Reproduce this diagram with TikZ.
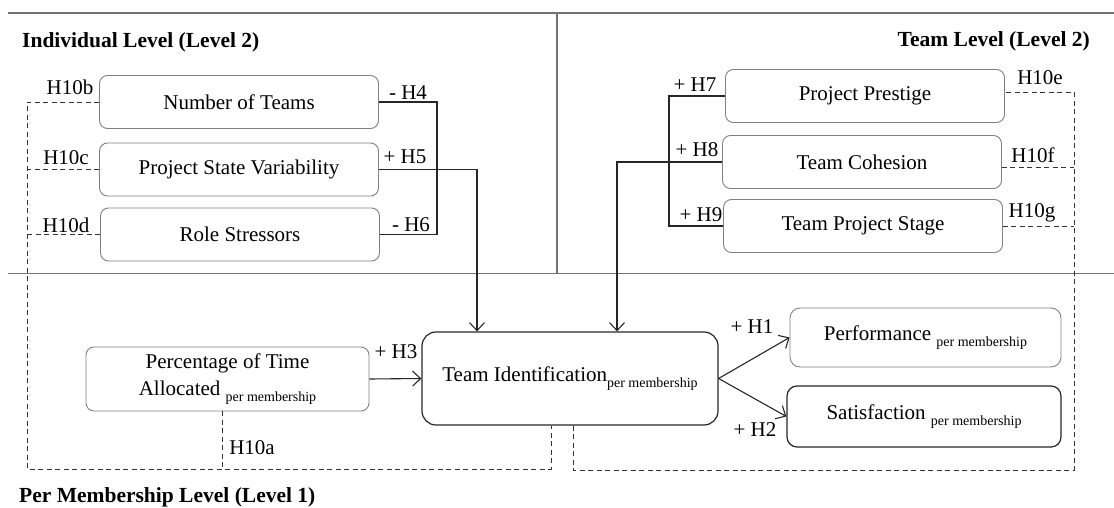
\documentclass[tikz,border=0pt]{standalone}
\usepackage{fontspec}
\setmainfont{Liberation Serif}
\usetikzlibrary{arrows.meta,calc}

% lowered, smaller "per membership" index
\newcommand{\permem}{\raisebox{-0.32em}{\fontsize{14}{14}\selectfont per membership}}

\begin{document}
\begin{tikzpicture}[x=1pt,y=-1pt,
  font=\fontsize{21}{27}\selectfont,
  box/.style={draw=black!50, line width=0.9pt, rounded corners=8pt, inner sep=0pt, align=center,
              minimum width=279pt, minimum height=53pt},
  strongbox/.style={box, draw=black!85, line width=1.2pt},
  link/.style={draw=black!85, line width=1.1pt},
  tip/.style={-{Straight Barb[length=8pt,width=15pt,line width=1.1pt]}},
  dline/.style={draw=black!80, line width=0.9pt, dash pattern=on 5pt off 3.5pt},
  divider/.style={draw=black!55, line width=1.4pt},
  head/.style={font=\fontsize{21.5}{26}\selectfont\bfseries, inner sep=0pt},
  lab/.style={inner sep=0pt}
]
\useasboundingbox (0,0) rectangle (1114,508);

% frame of the three levels
\draw[divider] (8,13) -- (1114,13);
\draw[divider] (8,273.5) -- (1114,273.5);
\draw[divider] (557,13) -- (557,273.5);

\node[head, anchor=west] (hind) at (22,42) {Individual Level (Level 2)};
\node[head, anchor=east] (hteam) at (1090,41) {Team Level (Level 2)};
\node[head, anchor=west] (hmem) at (19,497) {Per Membership Level (Level 1)};

% individual level constructs
\node[box] (not) at (239,102) {Number of Teams};
\node[box] (psv) at (239,169.5) {Project State Variability};
\node[box] (rs)  at (240,234.5) {Role Stressors};

% team level constructs
\node[box] (pp)  at (865,96)  {Project Prestige};
\node[box] (tc)  at (862,162) {Team Cohesion};
\node[box] (tps) at (863,226) {Team Project Stage};

% per membership constructs
\node[box, minimum width=283pt, minimum height=64pt] (pct) at (227.5,379)
  {Percentage of Time\\Allocated \permem};
\node[strongbox, rounded corners=14pt, minimum width=296pt, minimum height=93pt] (ti) at (570,378.5)
  {Team Identification\permem};
\node[box, rounded corners=10pt, minimum width=271pt, minimum height=59pt] (perf) at (925.5,337.5)
  {Performance \permem};
\node[strongbox, rounded corners=10pt, minimum width=274pt, minimum height=61pt] (sat) at (924,416.5)
  {Satisfaction \permem};

% junction columns and corners
\coordinate (bar)   at (437,0);
\coordinate (drop)  at (477,0);
\coordinate (rbar)  at (669,0);
\coordinate (drop2) at (617,0);
\coordinate (lft)   at (27,0);
\coordinate (rgt)   at (1074,0);
\coordinate (tiL)   at (551,469);
\coordinate (tiR)   at (573,470);
\coordinate (h10a)  at (222,469);

% individual level paths
\draw[link] (not.east) -- (not.east -| bar) -- (rs.east -| bar) -- (rs.east);
\draw[link, tip] (psv.east) -| (ti.north -| drop);

% team level paths
\draw[link] (pp.west) -- (pp.west -| rbar) -- (tps.west -| rbar) -- (tps.west);
\draw[link, tip] (tc.west) -| (ti.north -| drop2);

% per membership paths
\draw[link, tip] (pct.east) -- (ti.west);
\draw[link, tip] (ti.east) -- (perf.west);
\draw[link, tip] (ti.east) -- (sat.west);

% cross-level (H10) paths
\draw[dline] (not.west) -- (not.west -| lft) -- (lft |- tiL) -- (tiL) -- (tiL |- ti.south);
\draw[dline] (psv.west) -- (psv.west -| lft);
\draw[dline] (rs.west) -- (rs.west -| lft);
\draw[dline] (h10a |- pct.south) -- (h10a);
\draw[dline] (tiR |- ti.south) -- (tiR) -- (tiR -| rgt) -- ($(pp.east -| rgt)+(0,-4)$) -- ($(pp.east)+(0,-4)$);
\draw[dline] ($(tc.east)+(0,5)$) -- ($(tc.east -| rgt)+(0,5)$);
\draw[dline] (tps.east) -- (tps.east -| rgt);

% hypothesis labels
\node[lab] (l10b) at (70,87)   {H10b};
\node[lab] (l10c) at (66,158)  {H10c};
\node[lab] (l10d) at (66,225)  {H10d};
\node[lab] (l4)   at (408,93)  {- H4};
\node[lab] (l5)   at (405,157) {+ H5};
\node[lab] (l6)   at (411,225) {- H6};
\node[lab] (l7)   at (695,85)  {+ H7};
\node[lab] (l8)   at (697,150) {+ H8};
\node[lab] (l9)   at (701,215) {+ H9};
\node[lab] (l10e) at (1040,78) {H10e};
\node[lab] (l10f) at (1033,155){H10f};
\node[lab] (l10g) at (1032,213){H10g};
\node[lab] (l3)   at (396,352) {+ H3};
\node[lab] (l1)   at (752,327) {+ H1};
\node[lab] (l2)   at (755,430) {+ H2};
\node[lab] (l10a) at (252,448) {H10a};
\end{tikzpicture}
\end{document}
